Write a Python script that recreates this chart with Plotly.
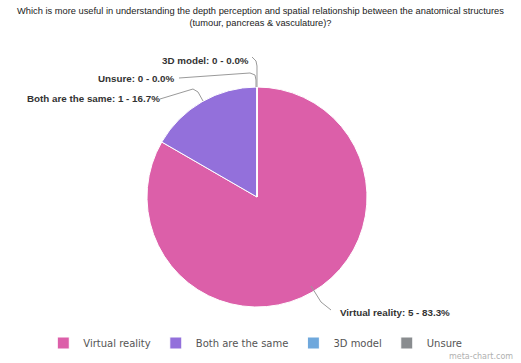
import plotly.graph_objects as go

W, H = 521, 363

labels = ["Virtual reality", "Both are the same", "3D model", "Unsure"]
values = [5, 1, 0, 0]
colors = ["#dc5fa9", "#9370db", "#6fa8dc", "#898c8f"]
title_text = ("Which is more useful in understanding the depth perception and spatial relationship "
              "between the anatomical structures<br>(tumour, pancreas & vasculature)?")

total = sum(values)
label_texts = [f"{l}: {v} - {100*v/total:.1f}%" for l, v in zip(labels, values)]


def px(x):
    return x / W


def py(y):
    return 1 - y / H


fig = go.Figure(go.Pie(
    labels=labels, values=values, sort=False, direction="clockwise", rotation=0,
    marker=dict(colors=colors, line=dict(color="white", width=1)),
    textinfo="none", hoverinfo="label+value+percent",
    domain=dict(x=[px(147), px(367)], y=[py(307), py(87)]),
))

# label annotations (text position, anchor) and leader paths in pixels
label_layout = {
    "Virtual reality": dict(x=338, y=312, xanchor="left",
                            path=[(311, 286), (321, 302), (331, 310)]),
    "Both are the same": dict(x=162, y=99, xanchor="right",
                              path=[(160, 99), (193, 89), (198, 92), (203, 101)]),
    "3D model": dict(x=251, y=60, xanchor="right",
                     path=[(252, 57), (256, 61), (257, 66), (257, 87)]),
    "Unsure": dict(x=177, y=79, xanchor="right",
                   path=[(179, 78), (250, 73), (255, 75), (256, 80), (256, 87)]),
}

annotations = []
shapes = []
for lab, txt in zip(labels, label_texts):
    d = label_layout[lab]
    annotations.append(dict(
        x=px(d["x"]), y=py(d["y"]), xref="paper", yref="paper",
        text=f"<b>{txt}</b>", showarrow=False, xanchor=d["xanchor"], yanchor="middle",
        font=dict(family="Liberation Sans, Arial", size=9.8, color="#333333"),
    ))
    pts = d["path"]
    p = "M " + " L ".join(f"{px(a):.5f},{py(b):.5f}" for a, b in pts)
    shapes.append(dict(type="path", path=p, xref="paper", yref="paper",
                       line=dict(color="#9a9a9a", width=1)))

annotations.append(dict(
    x=px(515), y=py(356), xref="paper", yref="paper", text="meta-chart.com",
    showarrow=False, xanchor="right", yanchor="middle",
    font=dict(family="DejaVu Sans", size=8, color="#b0b0b0"),
))

fig.update_layout(
    width=W, height=H,
    margin=dict(l=0, r=0, t=0, b=0),
    paper_bgcolor="white", plot_bgcolor="white",
    title=dict(text=title_text, x=0.5, xanchor="center", y=py(14), yanchor="top",
               font=dict(family="Liberation Sans, Arial", size=9.3, color="#222222")),
    showlegend=True,
    legend=dict(orientation="h", x=0.49, xanchor="center", y=py(343), yanchor="middle",
                font=dict(family="DejaVu Sans", size=10, color="#555555"),
                traceorder="normal"),
    annotations=annotations,
    shapes=shapes,
)

fig.write_html("out.html", config={"displayModeBar": False},
               post_script="document.body.style.margin='0px';")
